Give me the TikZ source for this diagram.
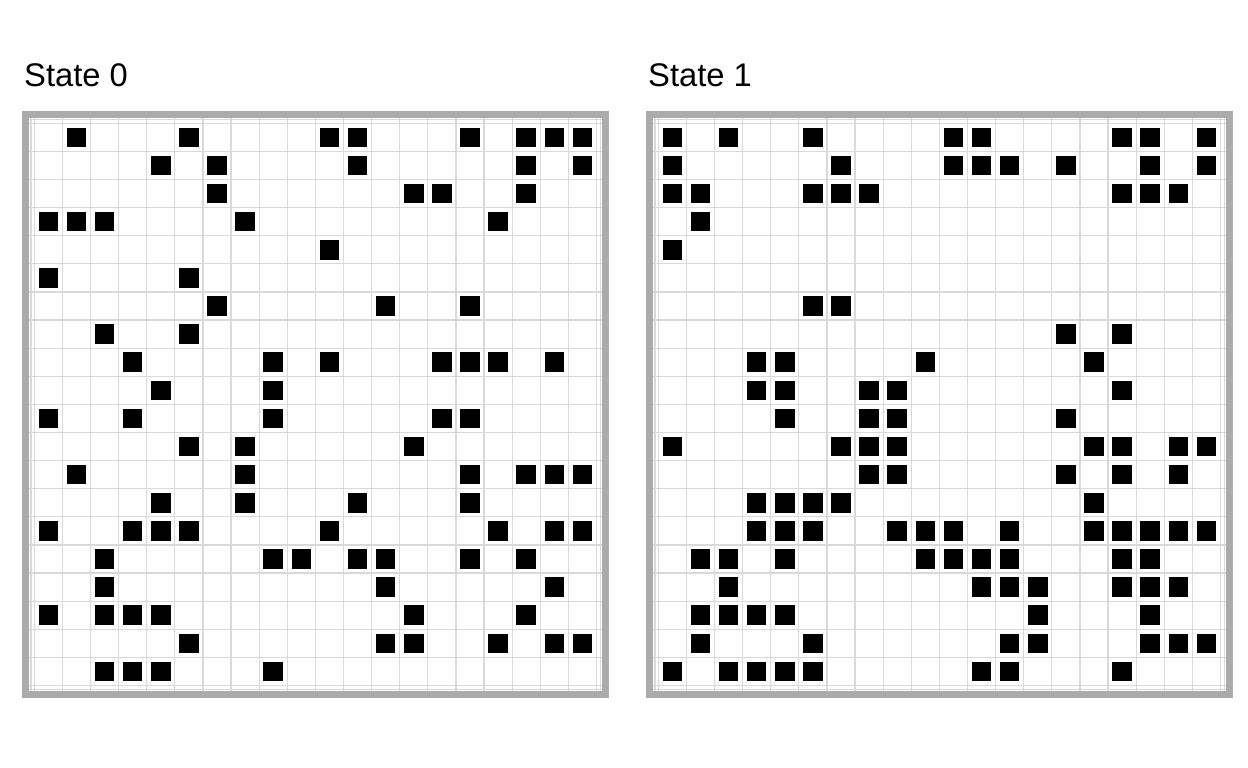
\documentclass[tikz,border=0pt]{standalone}
\usepackage{fontspec}
\setmainfont{Liberation Sans}
\definecolor{lifeFrame}{HTML}{ABABAB}
\definecolor{lifeGrid}{HTML}{D9D9D9}
\definecolor{lifeCell}{HTML}{000000}
\tikzset{
  lifeframe/.style={
    draw=lifeFrame,
    line width=7.5pt
  },
  gridline/.style={
    draw=lifeGrid,
    line width=1.2pt
  },
  cell/.style={
    fill=lifeCell
  },
  paneltitle/.style={
    anchor=base west,
    inner sep=0pt,
    font=\fontsize{32.7}{39}\selectfont
  }
}

\begin{document}
\begin{tikzpicture}[x=1pt, y=-1pt]
  \useasboundingbox (0,0) rectangle (1248,768);

  % titles
  \node[paneltitle] (title0) at (24,86.7) {State 0};
  \node[paneltitle] (title1) at (648,86.7) {State 1};

  % state 0
  \begin{scope}[shift={(34.3,123.3)}]
    \foreach \k in {0,...,20} {
      \draw[gridline] (\k*28.11,-5.2) -- (\k*28.11,567.4);
      \draw[gridline] (-5.2,\k*28.11) -- (567.4,\k*28.11);
    }
    \draw[gridline] (-3.4,-5.2) -- (-3.4,567.4);
    \draw[gridline] (566,-5.2) -- (566,567.4);
    \draw[gridline] (-5.2,-3.6) -- (567.4,-3.6);
    \draw[gridline] (-5.2,566) -- (567.4,566);
    \draw[lifeframe] (-9,-9) rectangle (571.2,571.2);
    \foreach \r/\cs in {0/{1,5,10,11,15,17,18,19}, 1/{4,6,11,17,19},
        2/{6,13,14,17}, 3/{0,1,2,7,16}, 4/{10}, 5/{0,5}, 6/{6,12,15},
        7/{2,5}, 8/{3,8,10,14,15,16,18}, 9/{4,8}, 10/{0,3,8,14,15},
        11/{5,7,13}, 12/{1,7,15,17,18,19}, 13/{4,7,11,15},
        14/{0,3,4,5,10,16,18,19}, 15/{2,8,9,11,12,15,17}, 16/{2,12,18},
        17/{0,2,3,4,13,17}, 18/{5,12,13,16,18,19}, 19/{2,3,4,8}} {
      \foreach \c in \cs {
        \fill[cell] (\c*28.11+4.3,\r*28.11+4.3) rectangle ++(19.5,19.5);
      }
    }
  \end{scope}

  % state 1
  \begin{scope}[shift={(658.3,123.3)}]
    \foreach \k in {0,...,20} {
      \draw[gridline] (\k*28.11,-5.2) -- (\k*28.11,567.4);
      \draw[gridline] (-5.2,\k*28.11) -- (567.4,\k*28.11);
    }
    \draw[gridline] (-3.4,-5.2) -- (-3.4,567.4);
    \draw[gridline] (566,-5.2) -- (566,567.4);
    \draw[gridline] (-5.2,-3.6) -- (567.4,-3.6);
    \draw[gridline] (-5.2,566) -- (567.4,566);
    \draw[lifeframe] (-9,-9) rectangle (571.2,571.2);
    \foreach \r/\cs in {0/{0,2,5,10,11,16,17,19}, 1/{0,6,10,11,12,14,17,19},
        2/{0,1,5,6,7,16,17,18}, 3/{1}, 4/{0}, 6/{5,6}, 7/{14,16},
        8/{3,4,9,15}, 9/{3,4,7,8,16}, 10/{4,7,8,14},
        11/{0,6,7,8,15,16,18,19}, 12/{7,8,14,16,18}, 13/{3,4,5,6,15},
        14/{3,4,5,8,9,10,12,15,16,17,18,19}, 15/{1,2,4,9,10,11,12,16,17},
        16/{2,11,12,13,16,17,18}, 17/{1,2,3,4,13,17},
        18/{1,5,12,13,17,18,19}, 19/{0,2,3,4,5,11,12,16}} {
      \foreach \c in \cs {
        \fill[cell] (\c*28.11+4.3,\r*28.11+4.3) rectangle ++(19.5,19.5);
      }
    }
  \end{scope}
\end{tikzpicture}
\end{document}
